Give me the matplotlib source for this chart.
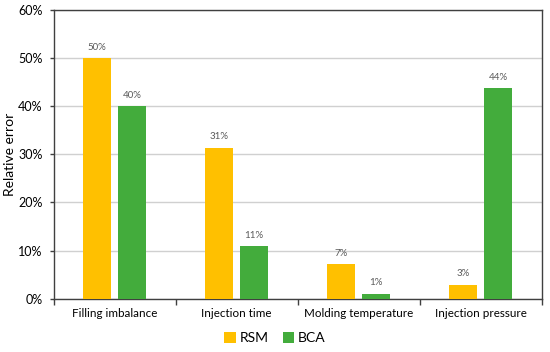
import matplotlib
matplotlib.use("Agg")
import matplotlib.pyplot as plt
import numpy as np
from matplotlib.ticker import FuncFormatter, FixedLocator

categories = ["Filling imbalance", "Injection time", "Molding temperature", "Injection pressure"]
rsm = [50.0, 31.4, 7.2, 2.9]
bca = [40.0, 11.0, 1.05, 43.75]
rsm_labels = ["50%", "31%", "7%", "3%"]
bca_labels = ["40%", "11%", "1%", "44%"]
series_names = ["RSM", "BCA"]

plt.rcParams['font.family'] = ['Lato', 'DejaVu Sans']

fig = plt.figure(figsize=(5.5, 3.52), dpi=100)
ax = fig.add_axes([53.5/550, 1 - 298.7/352, (541.7-53.5)/550, (298.7-10)/352])

x = np.arange(len(categories))
w = 0.225
off = 0.143
c_rsm = "#FFC000"
c_bca = "#43AC3C"
b1 = ax.bar(x - off, rsm, w, color=c_rsm, label=series_names[0], zorder=3)
b2 = ax.bar(x + off, bca, w, color=c_bca, label=series_names[1], zorder=3)

for rect, lab in zip(b1, rsm_labels):
    ax.annotate(lab, (rect.get_x() + rect.get_width()/2, rect.get_height()),
                xytext=(0, 4.5), textcoords="offset points", ha="center", va="bottom",
                fontsize=7, color="#595959")
for rect, lab in zip(b2, bca_labels):
    ax.annotate(lab, (rect.get_x() + rect.get_width()/2, rect.get_height()),
                xytext=(0, 4.5), textcoords="offset points", ha="center", va="bottom",
                fontsize=7, color="#595959")

ax.set_xlim(-0.5, len(categories) - 0.5)
ax.set_ylim(0, 60)
ax.set_yticks(np.arange(0, 61, 10))
ax.yaxis.set_major_formatter(FuncFormatter(lambda v, p: f"{int(v)}%"))
ax.grid(axis="y", color="#D0D0D0", linewidth=1, zorder=0)
ax.set_axisbelow(True)

ax.set_xticks(x)
ax.set_xticklabels(categories, fontsize=8.4)
ax.tick_params(axis="x", which="major", length=0, pad=6.5)
ax.xaxis.set_minor_locator(FixedLocator(np.arange(-0.5, len(categories), 1.0)))
ax.tick_params(axis="x", which="minor", length=4, width=1, color="#404040", direction="out")
ax.tick_params(axis="y", length=3, width=1, color="#404040", labelsize=9, pad=5)

for s in ["left", "bottom", "top", "right"]:
    ax.spines[s].set_color("#404040")
    ax.spines[s].set_linewidth(1)

ax.set_ylabel("Relative error", fontsize=10)
ax.yaxis.set_label_coords(-(53.5 - 16.5) / 488.2, 0.5)

fig.legend(handles=[b1, b2], labels=series_names, loc="center", bbox_to_anchor=(0.5, 1 - 338/352),
           ncol=2, frameon=False, fontsize=10, handlelength=0.8, handleheight=0.8,
           handletextpad=0.3, columnspacing=1.0)

fig.savefig("out.png", dpi=100)
